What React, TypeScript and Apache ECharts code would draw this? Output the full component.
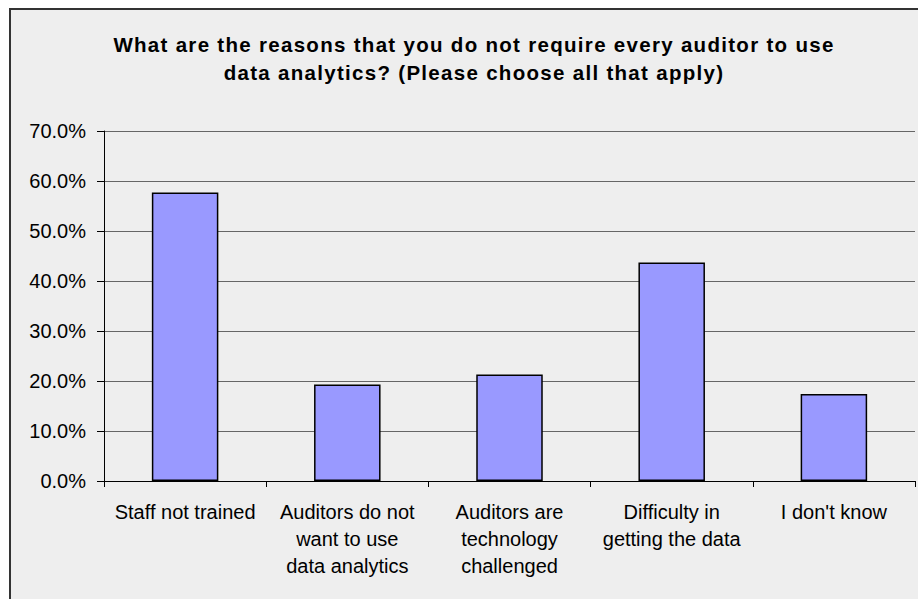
import React, { useEffect, useRef } from "react";
import * as echarts from "echarts";

const titleText =
  "What are the reasons that you do not require every auditor to use\ndata analytics? (Please choose all that apply)";
const categories = [
  "Staff not trained",
  "Auditors do not\nwant to use\ndata analytics",
  "Auditors are\ntechnology\nchallenged",
  "Difficulty in\ngetting the data",
  "I don't know",
];
const values = [57.7, 19.3, 21.3, 43.7, 17.4];
const yMin = 0;
const yMax = 70;
const yStep = 10;

export default function App() {
  const ref = useRef<HTMLDivElement>(null);
  useEffect(() => {
    if (!ref.current) return;
    const chart = echarts.init(ref.current, null, { renderer: "svg" });
    const font = "'Liberation Sans', Arial, sans-serif";
    chart.setOption({
      animation: false,
      backgroundColor: "#ffffff",
      graphic: [
        {
          type: "rect",
          z: -10,
          shape: { x: 10, y: 9, width: 1000, height: 1000 },
          style: { fill: "#eeeeee", stroke: "#333333", lineWidth: 2 },
        },
      ],
      title: {
        text: titleText,
        left: 469,
        top: 25,
        textAlign: "center",
        textStyle: {
          fontFamily: font,
          fontSize: 20.5,
          fontWeight: "bold",
          color: "#000000",
          lineHeight: 28,
        },
      },
      grid: { left: 104, right: 3, top: 131, bottom: 118, containLabel: false },
      xAxis: {
        type: "category",
        data: categories,
        axisLine: { lineStyle: { color: "#000000", width: 1 } },
        axisTick: { show: true, length: 6, lineStyle: { color: "#000000" } },
        axisLabel: {
          fontFamily: font,
          fontSize: 20,
          color: "#000000",
          lineHeight: 27,
          margin: 17,
          interval: 0,
        },
      },
      yAxis: {
        type: "value",
        min: yMin,
        max: yMax,
        interval: yStep,
        axisLine: { show: true, lineStyle: { color: "#000000", width: 1 } },
        axisTick: { show: true, length: 7, lineStyle: { color: "#000000" } },
        axisLabel: {
          fontFamily: font,
          fontSize: 20,
          color: "#000000",
          margin: 18,
          formatter: (v: number) => v.toFixed(1) + "%",
        },
        splitLine: { show: true, lineStyle: { color: "#666666", width: 1 } },
      },
      series: [
        {
          type: "bar",
          data: values,
          barWidth: "41%",
          itemStyle: { color: "#9999ff", borderColor: "#000000", borderWidth: 1.5 },
        },
      ],
    });
    return () => chart.dispose();
  }, []);
  return (
    <>
      <style>{`.chart-root text[style*="bold"] { letter-spacing: 1.3px; }`}</style>
      <div
        ref={ref}
        className="chart-root"
        style={{ position: "absolute", left: 0, top: 0, width: 918, height: 599 }}
      />
    </>
  );
}
